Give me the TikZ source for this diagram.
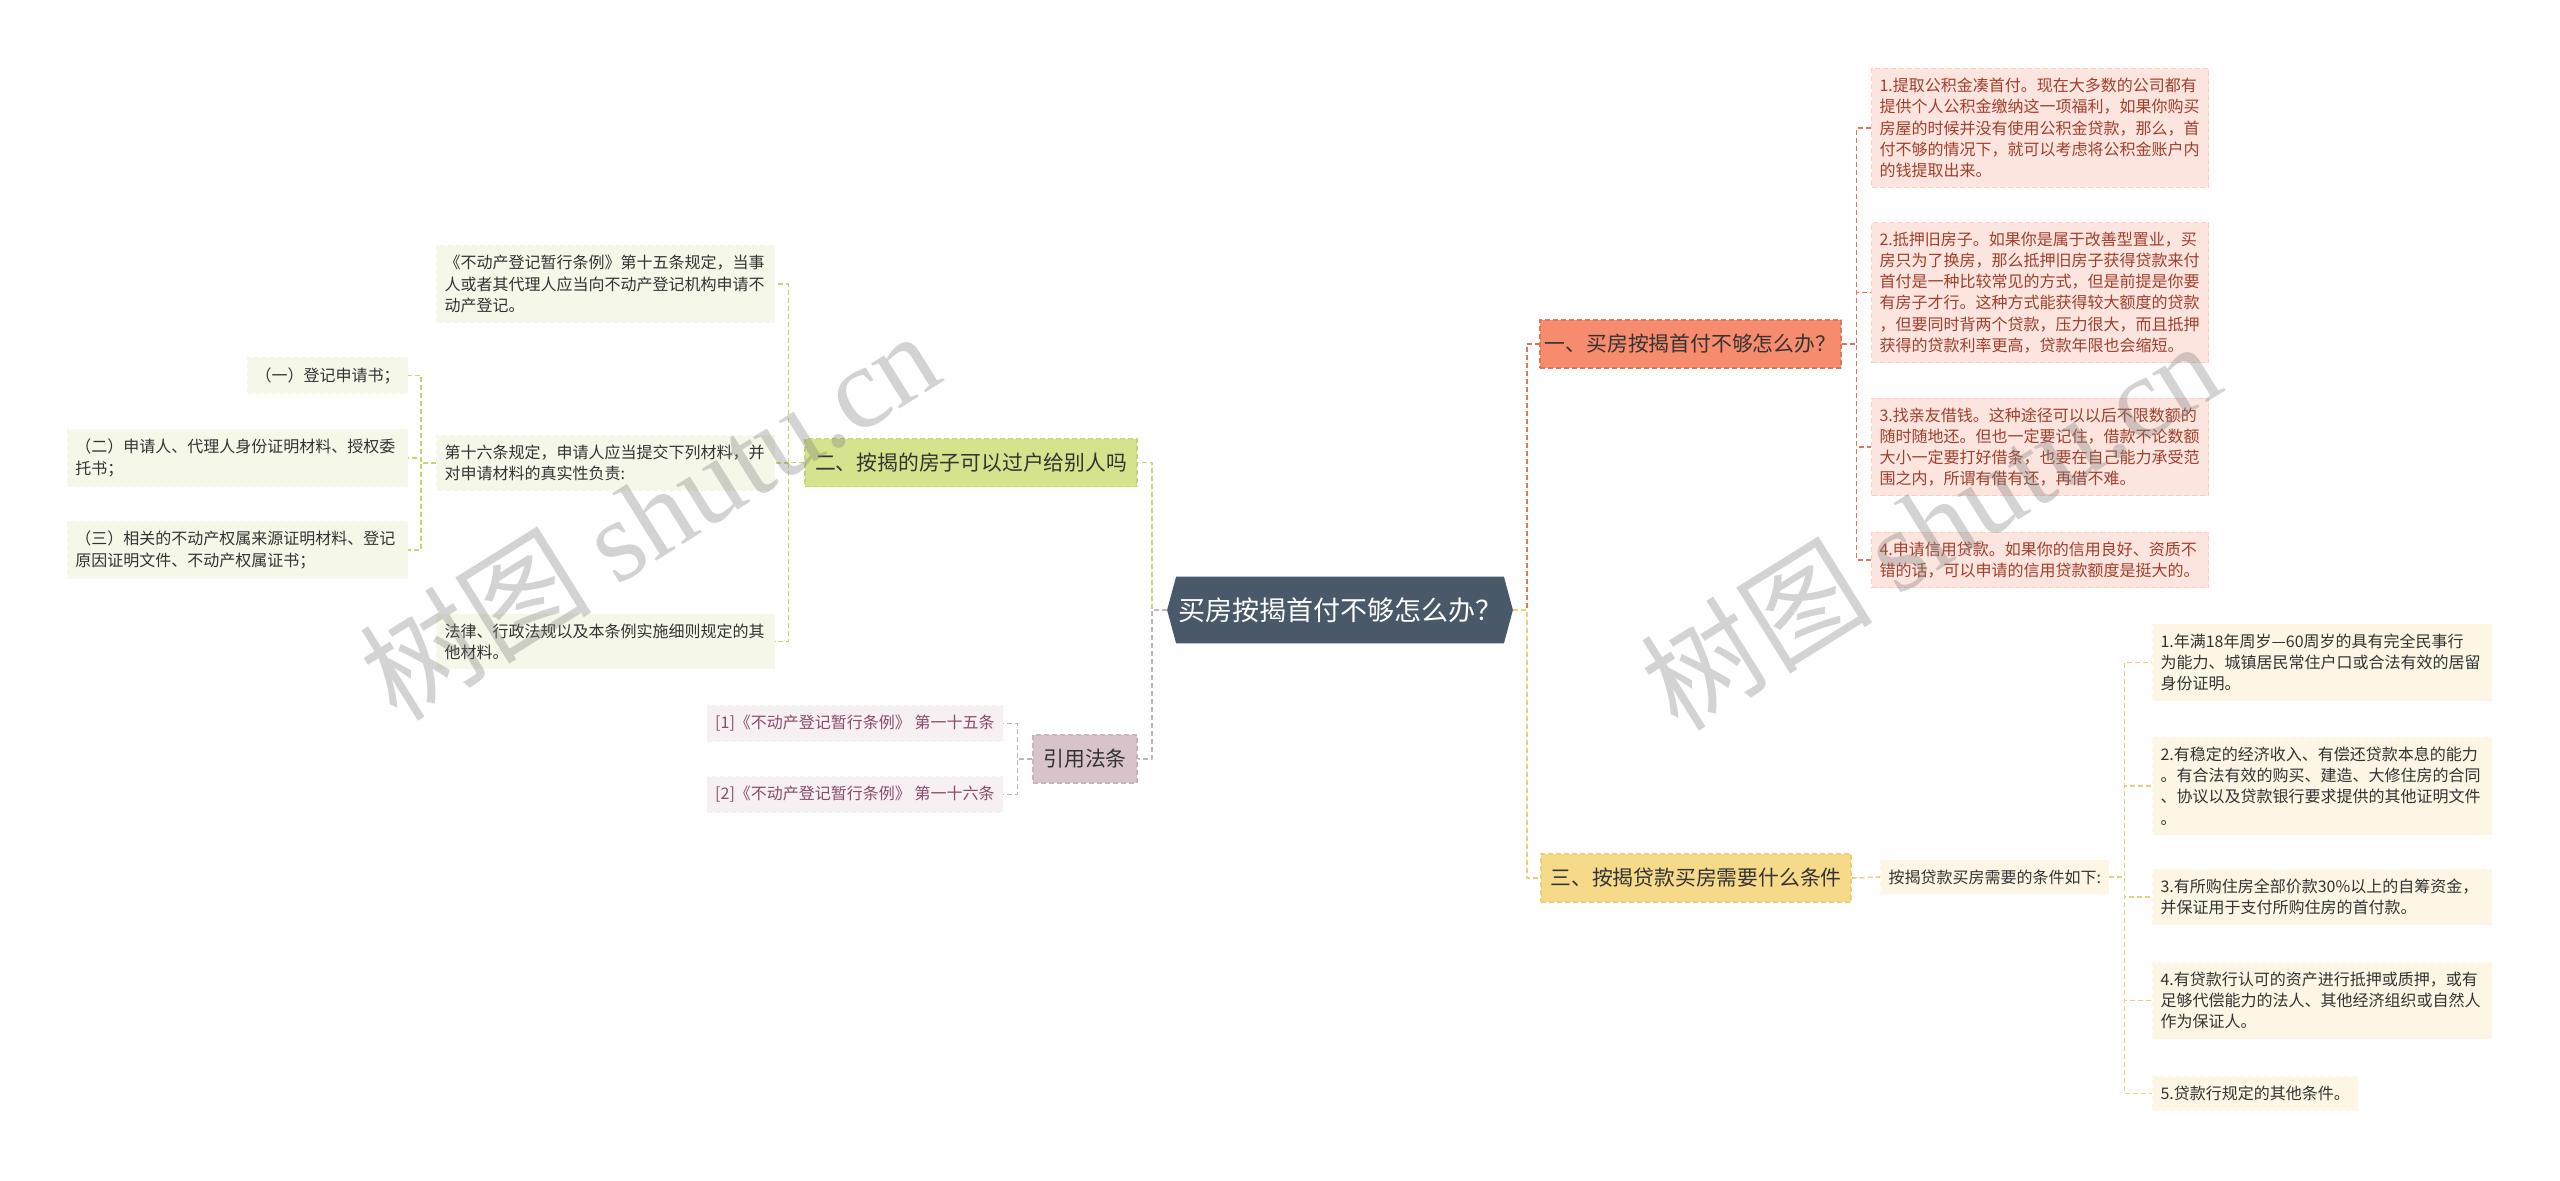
\documentclass[tikz,border=0pt]{standalone}
\usepackage{fontspec}
\setmainfont{Noto Sans CJK SC}
\newfontfamily\wmfont{Liberation Serif}
\usetikzlibrary{backgrounds}
\definecolor{rootbg}{HTML}{4A5969}
\definecolor{onefill}{HTML}{F78B6E}
\definecolor{oneline}{HTML}{E0755C}
\definecolor{twofill}{HTML}{D4E38C}
\definecolor{twoline}{HTML}{C4D577}
\definecolor{threefill}{HTML}{F6DA8A}
\definecolor{threeline}{HTML}{ECCF7A}
\definecolor{fourfill}{HTML}{D8C3CB}
\definecolor{fourline}{HTML}{C6B4BC}
\definecolor{oneleaf}{HTML}{FCE5DF}
\definecolor{onetext}{HTML}{A13F2B}
\definecolor{twoleaf}{HTML}{F5F7E8}
\definecolor{threeleaf}{HTML}{FDF6E4}
\definecolor{fourleaf}{HTML}{F7F0F2}
\definecolor{fourtext}{HTML}{8A4B6C}
\definecolor{darktext}{HTML}{333333}
\begin{document}
\begin{tikzpicture}[x=0.5pt,y=-0.5pt,line join=round,
	link/.style={line width=0.8pt,dash pattern=on 2.5pt off 1.5pt},
	branch/.style={font=\fontsize{10.4}{12}\selectfont,text=darktext,minimum height=24pt,inner sep=0pt,line width=0.6pt,dash pattern=on 2.5pt off 1.5pt},
	leaf/.style={font=\fontsize{8}{10.6}\selectfont,text=darktext,align=left,inner xsep=4pt,inner ysep=4.7pt,line width=0.5pt,dash pattern=on 2.5pt off 1.5pt}]
	\useasboundingbox (0,0) rectangle (2560,1180);
	% centre
	\node[font=\fontsize{13.5}{15}\selectfont,text=white,minimum width=172.5pt,minimum height=33pt,inner sep=0pt] (root) at (1340,610) {买房按揭首付不够怎么办？};
	\begin{scope}[on background layer]
		\fill[rootbg] (root.west) -- ([xshift=4.5pt]root.north west) -- ([xshift=-4.5pt]root.north east) -- (root.east) -- ([xshift=-4.5pt]root.south east) -- ([xshift=4.5pt]root.south west) -- cycle;
	\end{scope}
	% branches
	\node[branch,fill=onefill,draw=oneline,minimum width=150.5pt] (b1) at (1690.5,344) {一、买房按揭首付不够怎么办？};
	\node[branch,fill=twofill,draw=twoline,minimum width=166pt] (b2) at (971,462.5) {二、按揭的房子可以过户给别人吗};
	\node[branch,fill=threefill,draw=threeline,minimum width=155pt] (b3) at (1696,878) {三、按揭贷款买房需要什么条件};
	\node[branch,fill=fourfill,draw=fourline,minimum width=52pt] (b4) at (1085,759) {引用法条};
	% branch one
	\tikzset{oleaf/.style={leaf,fill=oneleaf,draw=oneleaf!80!oneline,text=onetext,text width=160.5pt,anchor=west}}
	\node[oleaf] (o1) at (1871,128) {1.提取公积金凑首付。现在大多数的公司都有\\提供个人公积金缴纳这一项福利，如果你购买\\房屋的时候并没有使用公积金贷款，那么，首\\付不够的情况下，就可以考虑将公积金账户内\\的钱提取出来。};
	\node[oleaf] (o2) at (1871,292.5) {2.抵押旧房子。如果你是属于改善型置业，买\\房只为了换房，那么抵押旧房子获得贷款来付\\首付是一种比较常见的方式，但是前提是你要\\有房子才行。这种方式能获得较大额度的贷款\\，但要同时背两个贷款，压力很大，而且抵押\\获得的贷款利率更高，贷款年限也会缩短。};
	\node[oleaf] (o3) at (1871,447) {3.找亲友借钱。这种途径可以以后不限数额的\\随时随地还。但也一定要记住，借款不论数额\\大小一定要打好借条，也要在自己能力承受范\\围之内，所谓有借有还，再借不难。};
	\node[oleaf] (o4) at (1871,560) {4.申请信用贷款。如果你的信用良好、资质不\\错的话，可以申请的信用贷款额度是挺大的。};
	% branch three
	\tikzset{yleaf/.style={leaf,fill=threeleaf,draw=threeleaf,anchor=west}}
	\node[yleaf] (s) at (1880,877) {按揭贷款买房需要的条件如下:};
	\node[yleaf,text width=161.5pt] (c1) at (2152,662.5) {1.年满18年周岁—60周岁的具有完全民事行\\为能力、城镇居民常住户口或合法有效的居留\\身份证明。};
	\node[yleaf,text width=161.5pt] (c2) at (2152,786) {2.有稳定的经济收入、有偿还贷款本息的能力\\。有合法有效的购买、建造、大修住房的合同\\、协议以及贷款银行要求提供的其他证明文件\\。};
	\node[yleaf,text width=161.5pt] (c3) at (2152,897) {3.有所购住房全部价款30\%以上的自筹资金，\\并保证用于支付所购住房的首付款。};
	\node[yleaf,text width=161.5pt] (c4) at (2152,1000.5) {4.有贷款行认可的资产进行抵押或质押，或有\\足够代偿能力的法人、其他经济组织或自然人\\作为保证人。};
	\node[yleaf] (c5) at (2152,1093.5) {5.贷款行规定的其他条件。};
	% branch two
	\tikzset{gleaf/.style={leaf,fill=twoleaf,draw=twoleaf,anchor=east}}
	\node[gleaf,text width=161pt] (g1) at (775,284) {《不动产登记暂行条例》第十五条规定，当事\\人或者其代理人应当向不动产登记机构申请不\\动产登记。};
	\node[gleaf,text width=161pt] (g2) at (775,463) {第十六条规定，申请人应当提交下列材料，并\\对申请材料的真实性负责:};
	\node[gleaf,text width=161pt] (g3) at (775,641.5) {法律、行政法规以及本条例实施细则规定的其\\他材料。};
	\node[gleaf] (h1) at (408,375.5) {（一）登记申请书；};
	\node[gleaf,text width=162pt] (h2) at (408,458) {（二）申请人、代理人身份证明材料、授权委\\托书；};
	\node[gleaf,text width=162pt] (h3) at (408,550) {（三）相关的不动产权属来源证明材料、登记\\原因证明文件、不动产权属证书；};
	% branch four
	\tikzset{pleaf/.style={leaf,fill=fourleaf,draw=fourleaf,text=fourtext,anchor=east}}
	\node[pleaf] (p1) at (1003,723.5) {[1]《不动产登记暂行条例》 第一十五条};
	\node[pleaf] (p2) at (1003,794.5) {[2]《不动产登记暂行条例》 第一十六条};
	% links
	\draw[link,oneline] (root.east) -- ++(14,0) |- (b1.west);
	\draw[link,threeline] (root.east) -- ++(14,0) |- (b3.west);
	\draw[link,twoline] (root.west) -- ++(-15,0) |- (b2.east);
	\draw[link,fourline] (root.west) -- ++(-15,0) |- (b4.east);
	\foreach \i in {o1,o2,o3,o4}{\draw[link,oneline] (b1.east) -- ++(15,0) |- (\i.west);}
	\draw[link,threeline] (b3.east) -- (s.west);
	\foreach \i in {c1,c2,c3,c4,c5}{\draw[link,threeline] (s.east) -- ++(15,0) |- (\i.west);}
	\foreach \i in {g1,g2,g3}{\draw[link,twoline] (b2.west) -- ++(-16,0) |- (\i.east);}
	\foreach \i in {h1,h2,h3}{\draw[link,twoline] (g2.west) -- ++(-15,0) |- (\i.east);}
	\foreach \i in {p1,p2}{\draw[link,fourline] (b4.west) -- ++(-15,0) |- (\i.east);}
	% watermark
	\foreach \p in {(649,514),(1930,524)}{\node[rotate=32,text=gray,opacity=0.35,font=\fontsize{58}{64}\selectfont] at \p {树图 {\wmfont shutu.cn}};}
\end{tikzpicture}
\end{document}
